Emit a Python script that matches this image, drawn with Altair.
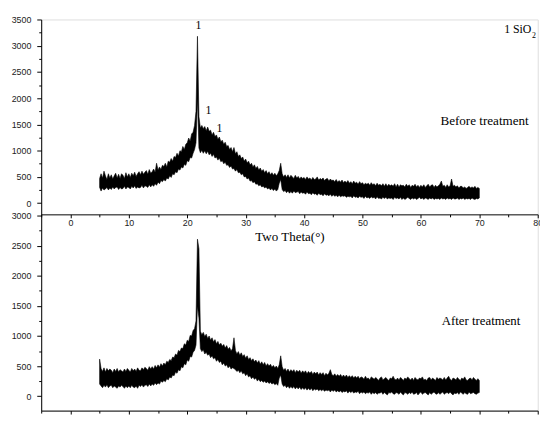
import altair as alt
import pandas as pd

# ---------------- data ----------------
# Diffraction traces sampled every 0.25 degree from 5 to 70 degrees 2-theta.
# Each trace is drawn as a noisy band: upper and lower edge of the band, in counts.
THETA_START = 5.0
THETA_STEP = 0.25

before_hi = [
    470, 560, 480, 610,  520, 450, 560, 480,  540, 460, 520, 570,  480, 550, 470, 560,
    530, 470, 580, 500,  560, 490, 570, 520,  590, 510, 560, 600,  540, 610, 550, 590,
    620, 550, 640, 570,  600, 650, 590, 760,  630, 690, 640, 720,  700, 760, 690, 800,
    780, 850, 800, 890,  870, 950, 900, 1000, 980, 1080, 1020, 1120, 1150, 1240, 1180, 1320,
    1350, 1480, 1750, 3180, 1650, 1430, 1480, 1420, 1460, 1380, 1450, 1370, 1390, 1300, 1350, 1270,
    1300, 1220, 1260, 1170, 1200, 1120, 1160, 1080, 1100, 1020, 1060, 980, 1060, 940, 980, 890,
    920, 850, 880, 800,  840, 770, 800, 730,  760, 690, 730, 660,  700, 630, 670, 610,
    640, 580, 620, 560,  600, 540, 580, 530,  570, 520, 560, 620,  760, 560, 500, 540,
    490, 540, 480, 530,  500, 470, 530, 480,  510, 460, 500, 470,  490, 450, 500, 460,
    480, 440, 490, 450,  460, 500, 440, 470,  450, 480, 430, 460,  470, 420, 460, 430,
    440, 410, 450, 400,  430, 400, 440, 390,  420, 390, 430, 380,  410, 370, 420, 380,
    400, 360, 410, 370,  390, 350, 380, 360,  380, 340, 390, 350,  370, 330, 380, 340,
    360, 330, 370, 320,  370, 320, 360, 330,  350, 320, 370, 310,  360, 310, 350, 330,
    340, 310, 360, 320,  350, 300, 340, 320,  360, 310, 340, 300,  340, 310, 350, 300,
    330, 360, 310, 340,  350, 300, 340, 310,  330, 360, 420, 320,  340, 300, 350, 310,
    330, 460, 320, 340,  310, 330, 290, 320,  320, 290, 310, 280,  300, 320, 290, 310,
    290, 320, 280, 300,
    280,
]
before_lo = [
    300, 230, 290, 250,  270, 300, 250, 290,  260, 310, 270, 300,  310, 260, 300, 270,
    280, 320, 270, 310,  300, 270, 320, 290,  330, 280, 310, 290,  300, 340, 290, 330,
    320, 300, 350, 310,  350, 320, 370, 340,  400, 370, 430, 410,  450, 420, 480, 460,
    520, 490, 560, 540,  600, 580, 650, 630,  690, 670, 740, 720,  810, 790, 870, 860,
    950, 1020, 1150, 2000, 1050, 960, 1010, 950, 1000, 940, 990, 920, 950, 890, 930, 860,
    880, 820, 860, 790,  810, 750, 780, 720,  730, 680, 710, 650,  660, 610, 640, 580,
    590, 540, 560, 500,  510, 460, 480, 420,  430, 390, 410, 360,  370, 330, 350, 310,
    320, 290, 310, 270,  290, 250, 280, 240,  270, 230, 260, 380,  450, 260, 220, 240,
    200, 230, 190, 220,  190, 230, 200, 210,  220, 180, 210, 190,  200, 170, 210, 180,
    190, 160, 200, 170,  180, 150, 190, 160,  170, 140, 180, 150,  160, 140, 170, 130,
    160, 130, 150, 120,  150, 120, 140, 130,  140, 110, 130, 120,  130, 100, 140, 110,
    120, 100, 130, 110,  120, 90, 130, 100,   110, 90, 120, 100,   110, 80, 120, 90,
    100, 80, 110, 90,    110, 80, 100, 90,    100, 70, 110, 90,    100, 80, 110, 70,
    100, 70, 90, 110,    90, 70, 100, 80,     100, 70, 90, 110,    80, 100, 70, 100,
    90, 70, 100, 80,     100, 70, 90, 80,     90, 70, 100, 80,     90, 70, 100, 80,
    90, 70, 100, 80,     80, 100, 70, 90,     80, 100, 70, 90,     80, 90, 70, 100,
    80, 70, 90, 80,
    100,
]

after_hi = [
    615, 460, 410, 470,  400, 460, 420, 450,  430, 390, 450, 410,  460, 400, 440, 420,
    400, 450, 410, 460,  430, 400, 460, 420,  450, 410, 470, 430,  420, 470, 440, 480,
    460, 430, 490, 450,  490, 450, 510, 470,  520, 480, 540, 500,  550, 520, 580, 560,
    610, 590, 650, 640,  700, 680, 760, 740,  800, 790, 870, 850,  930, 910, 1010, 1000,
    1090, 1120, 1250, 2610, 2450, 1080, 1020, 1060, 990, 1030, 960, 1000, 930, 970, 900, 940,
    870, 910, 850, 880,  830, 860, 800, 840,  780, 810, 750, 790,  970, 760, 700, 740,
    680, 720, 660, 690,  630, 670, 610, 640,  590, 620, 570, 600,  550, 590, 530, 570,
    520, 560, 500, 540,  500, 530, 480, 510,  470, 500, 460, 520,  670, 490, 430, 460,
    410, 450, 400, 440,  410, 440, 390, 430,  400, 430, 380, 420,  390, 420, 370, 410,
    380, 410, 360, 400,  370, 400, 350, 390,  360, 390, 340, 380,  350, 380, 440, 360,
    340, 370, 330, 360,  330, 360, 320, 350,  320, 350, 310, 340,  310, 340, 300, 330,
    300, 330, 290, 320,
    310, 280, 330, 290,  300, 270, 320, 300,  280, 310, 290, 260,  300, 320, 270, 290,
    310, 280, 260, 300,  290, 330, 280, 270,  300, 270, 310, 290,  260, 300, 280, 320,
    290, 270, 300, 260,  310, 280, 270, 300,  290, 320, 270, 280,  260, 300, 310, 270,
    300, 280, 260, 310,  280, 300, 290, 270,  310, 270, 300, 330,  280, 260, 300, 290,
    270, 310, 280, 260,  300, 280, 320, 270,  260, 290, 300, 270,  310, 280, 260, 290,
    260,
]
after_lo = [
    200, 170, 140, 180,  150, 190, 140, 170,  180, 140, 170, 150,  130, 170, 150, 180,
    160, 130, 170, 140,  170, 140, 180, 150,  140, 170, 130, 180,  160, 190, 150, 180,
    190, 160, 200, 170,  200, 180, 220, 190,  220, 200, 250, 230,  260, 240, 290, 270,
    320, 300, 350, 340,  400, 380, 440, 420,  490, 470, 540, 520,  600, 580, 660, 650,
    730, 760, 850, 1500, 1300, 790, 740, 770, 700, 730, 680, 700, 640, 670, 620, 640,
    580, 610, 560, 580,  520, 550, 500, 520,  470, 500, 450, 470,  460, 440, 410, 430,
    390, 420, 370, 390,  340, 370, 320, 340,  290, 320, 280, 300,  250, 280, 240, 260,
    230, 250, 220, 240,  210, 230, 200, 220,  190, 210, 180, 300,  350, 200, 160, 180,
    140, 170, 130, 160,  130, 160, 120, 150,  120, 150, 110, 140,  110, 140, 100, 130,
    100, 130, 90, 120,   100, 120, 90, 110,   90, 110, 80, 100,    90, 100, 70, 100,
    80, 100, 70, 90,     70, 90, 60, 80,      70, 90, 50, 80,      60, 80, 50, 70,
    60, 80, 40, 70,      50, 70, 40, 60,      50, 70, 30, 60,      40, 60, 30, 50,
    50, 70, 30, 60,      40, 20, 60, 50,      70, 40, 30, 60,      50, 30, 70, 40,
    20, 60, 50, 30,      60, 40, 70, 30,      40, 60, 20, 50,      70, 30, 50, 60,
    40, 20, 60, 30,      50, 70, 40, 30,      60, 30, 50, 70,      30, 50, 60, 40,
    70, 40, 20, 50,      40, 60, 30, 70,      50, 30, 60, 40,      30, 70, 40, 50,
    60, 40, 30, 50,
    60,
]

x_major_ticks = [0, 10, 20, 30, 40, 50, 60, 70, 80]
x_minor_ticks = [-5, 5, 15, 25, 35, 45, 55, 65, 75]
top_y_major = [0, 500, 1000, 1500, 2000, 2500, 3000, 3500]
top_y_minor = [250, 750, 1250, 1750, 2250, 2750, 3250]
bot_y_major = [0, 500, 1000, 1500, 2000, 2500, 3000]
bot_y_minor = [250, 750, 1250, 1750, 2250, 2750]

peak_labels = ["1", "1", "1"]
peak_label_x = [21.9, 23.65, 25.5]
peak_label_y = [3400, 1770, 1430]
top_note = ["Before treatment"]
top_note_x = [70.9]
top_note_y = [1560]
legend_label = ["1 SiO"]
legend_x = [74.25]
legend_y = [3310]
sub_label = ["2"]
sub_label_x = [79.0]
sub_label_y = [3190]

bot_note = ["After treatment"]
bot_note_x = [70.3]
bot_note_y = [1250]

# ---------------- chart ----------------
theta = [THETA_START + i * THETA_STEP for i in range(len(before_hi))]
df_before = pd.DataFrame({"theta": theta, "hi": before_hi, "lo": before_lo})
df_after = pd.DataFrame({"theta": theta, "hi": after_hi, "lo": after_lo})

W = 504.0          # plot width
TOP_H = 199.2      # height of the upper panel
BOT_H = 197.8      # height of the lower panel
H = TOP_H + BOT_H
X_DOMAIN = [-5, 80]
TOP_DOMAIN = [-240, 3500]
BOT_DOMAIN = [-241, 3000]
SANS = "Liberation Sans"
SERIF = "Liberation Serif"

xs = alt.Scale(domain=X_DOMAIN, nice=False, zero=False)


def yscale(panel):
    if panel == 0:
        return alt.Scale(domain=TOP_DOMAIN, range=[TOP_H, 0], nice=False, zero=False)
    return alt.Scale(domain=BOT_DOMAIN, range=[H, TOP_H], nice=False, zero=False)


def x_major_axis(offset, title):
    kw = dict(values=x_major_ticks, grid=False, tickSize=3.5, labelPadding=1,
              labelFont=SANS, labelFontSize=9, labelColor="#222", format="d",
              domainColor="black", tickColor="black", labelFlush=False,
              orient="bottom", offset=offset)
    if title:
        kw.update(title=title, titleFont=SERIF, titleFontSize=13.2,
                  titleFontWeight="normal", titleColor="black", titlePadding=3)
    else:
        kw.update(title=None)
    return alt.Axis(**kw)


def x_minor_axis(offset):
    return alt.Axis(values=x_minor_ticks, labels=False, domain=False, grid=False,
                    tickSize=2.5, title=None, orient="bottom", tickColor="black",
                    offset=offset)


def y_major_axis(vals):
    return alt.Axis(values=vals, title=None, grid=False, tickSize=4.5, labelPadding=6,
                    labelFont=SANS, labelFontSize=9, labelColor="#222", format="d",
                    domainColor="black", tickColor="black", labelFlush=False,
                    orient="left")


def y_minor_axis(vals):
    return alt.Axis(values=vals, labels=False, domain=False, grid=False, tickSize=2.5,
                    title=None, orient="left", tickColor="black")


def panel_layers(df, panel, ymaj, ymin, xtitle, texts):
    off = -TOP_H if panel == 0 else 0
    band = alt.Chart(df).mark_area(color="black", stroke="black", strokeWidth=0.6).encode(
        x=alt.X("theta:Q", scale=xs, axis=x_major_axis(off, xtitle)),
        y=alt.Y("lo:Q", scale=yscale(panel), axis=y_major_axis(ymaj)),
        y2="hi:Q",
    )
    minor = alt.Chart(df).mark_point(opacity=0).encode(
        x=alt.X("theta:Q", scale=xs, axis=x_minor_axis(off)),
        y=alt.Y("hi:Q", scale=yscale(panel), axis=y_minor_axis(ymin)),
    )
    out = [band, minor]
    for labels, lx, ly, size, align in texts:
        tdf = pd.DataFrame({"tx": lx, "ty": ly, "label": labels})
        out.append(
            alt.Chart(tdf).mark_text(font=SERIF, fontSize=size, color="black",
                                     align=align, baseline="middle").encode(
                x=alt.X("tx:Q", scale=xs, axis=None),
                y=alt.Y("ty:Q", scale=yscale(panel), axis=None),
                text="label:N",
            )
        )
    return out


top_layers = panel_layers(
    df_before, 0, top_y_major, top_y_minor, "Two Theta(°)",
    [
        (peak_labels, peak_label_x, peak_label_y, 12, "center"),
        (top_note, top_note_x, top_note_y, 13.3, "center"),
        (legend_label, legend_x, legend_y, 12, "left"),
        (sub_label, sub_label_x, sub_label_y, 8, "left"),
    ],
)
bottom_layers = panel_layers(
    df_after, 1, bot_y_major, bot_y_minor, None,
    [(bot_note, bot_note_x, bot_note_y, 13, "center")],
)

chart = (
    alt.layer(*top_layers, *bottom_layers)
    .resolve_scale(y="independent")
    .resolve_axis(x="independent", y="independent")
    .properties(
        width=W,
        height=H,
        autosize=alt.AutoSizeParams(type="none"),
        padding={"left": 33.7, "top": 8.6, "right": 2.3, "bottom": 1.4},
    )
    .configure_view(stroke=None)
    .configure(background="white")
)

chart.save("out.html", embed_options={"renderer": "svg", "actions": False})
